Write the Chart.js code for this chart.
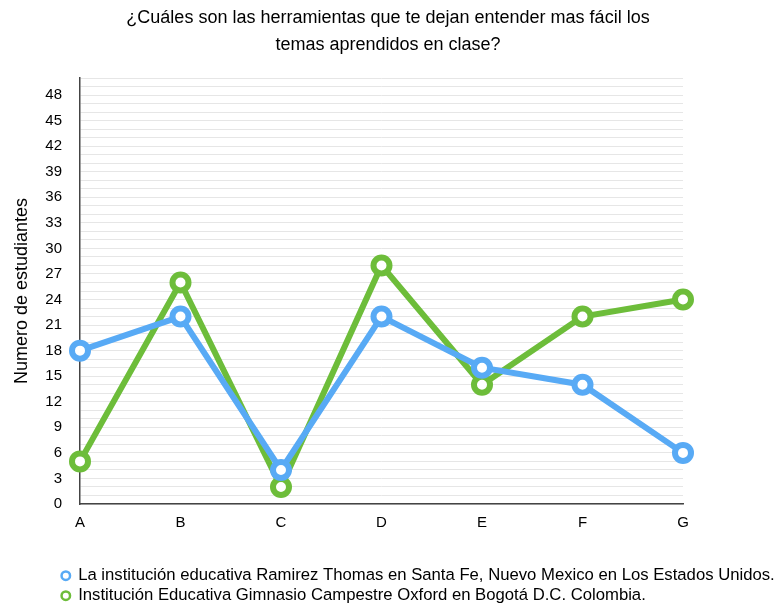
<!DOCTYPE html>
<html>
<head>
<meta charset="utf-8">
<script src="https://cdn.jsdelivr.net/npm/chart.js@4"></script>
<style>
  html, body { margin: 0; padding: 0; background: #fff; }
  #wrap { width: 776px; height: 603px; }
</style>
</head>
<body>
<div id="wrap"><canvas id="chart" width="776" height="603"></canvas></div>
<script>
// datos
const categorias = ['A', 'B', 'C', 'D', 'E', 'F', 'G'];
const santaFe = [18, 22, 4, 22, 16, 14, 6];
const bogota = [5, 26, 2, 28, 14, 22, 24];
const titulo = ['¿Cuáles son las herramientas que te dejan entender mas fácil los', 'temas aprendidos en clase?'];
const nombreSantaFe = 'La institución educativa Ramirez Thomas en Santa Fe, Nuevo Mexico en Los Estados Unidos.';
const nombreBogota = 'Institución Educativa Gimnasio Campestre Oxford en Bogotá D.C. Colombia.';
const yMax = 50;

const azul = 'rgb(88, 170, 245)';
const verde = 'rgb(109, 189, 58)';
const fuente = "'Liberation Sans', Arial, sans-serif";

// mueve la leyenda a la derecha, como en la imagen
const moverLeyenda = {
    id: 'moverLeyenda',
    afterLayout(chart) {
        chart.legend.left = 58.5;
    }
};

const ctx = document.getElementById('chart').getContext('2d');
const myChart = new Chart(ctx, {
    type: 'line',
    data: {
        labels: categorias,
        datasets: [
            {
                label: nombreSantaFe,
                data: santaFe,
                borderColor: azul,
                backgroundColor: '#fff',
                borderWidth: 6,
                pointRadius: 8,
                pointBorderWidth: 6,
                pointBackgroundColor: '#fff',
                pointBorderColor: azul,
                tension: 0,
            },
            {
                label: nombreBogota,
                data: bogota,
                borderColor: verde,
                backgroundColor: '#fff',
                borderWidth: 6,
                pointRadius: 8,
                pointBorderWidth: 6,
                pointBackgroundColor: '#fff',
                pointBorderColor: verde,
                tension: 0,
            },
        ]
    },
    options: {
        responsive: false,
        animation: false,
        layout: { padding: { left: 0, right: 0, top: 0, bottom: -11 } },
        plugins: {
            title: {
                display: true,
                text: titulo,
                color: '#000',
                font: { family: fuente, size: 18, weight: 'normal', lineHeight: 1.5 },
                padding: { top: 4.5, bottom: 19.5 },
            },
            legend: {
                position: 'bottom',
                align: 'start',
                labels: {
                    color: '#000',
                    font: { family: fuente, size: 16.7 },
                    usePointStyle: true,
                    pointStyle: 'circle',
                    boxWidth: 8,
                    boxHeight: 6,
                    padding: 3.3,
                    generateLabels: function (chart) {
                        return chart.data.datasets.map(function (ds, i) {
                            return {
                                text: ds.label,
                                fillStyle: '#fff',
                                strokeStyle: ds.borderColor,
                                lineWidth: 2.5,
                                pointStyle: 'circle',
                                datasetIndex: i,
                                fontColor: '#000',
                            };
                        });
                    }
                },
            },
            tooltip: { enabled: false },
        },
        scales: {
            x: {
                offset: false,
                grid: { display: false, drawTicks: false },
                border: { display: true, color: '#444', width: 1.5 },
                ticks: { color: '#000', font: { family: fuente, size: 15 }, padding: 10 },
                afterFit: function (scale) { scale.height = 60; },
            },
            y: {
                min: 0,
                max: yMax,
                grid: { color: '#e6e6e6', lineWidth: 1, drawTicks: false },
                border: { display: true, color: '#444', width: 1.5 },
                ticks: {
                    stepSize: 1,
                    autoSkip: false,
                    color: '#000',
                    font: { family: fuente, size: 15 },
                    padding: 18,
                    callback: function (value) {
                        return (value % 3 === 0 && value < yMax) ? value : '';
                    }
                },
                title: {
                    display: true,
                    text: 'Numero de estudiantes',
                    color: '#000',
                    font: { family: fuente, size: 18 },
                    padding: { top: 11, bottom: 4 },
                },
                afterFit: function (scale) { scale.width = 80; },
            },
            derecha: {
                position: 'right',
                display: true,
                grid: { display: false, drawTicks: false },
                border: { display: false },
                ticks: { display: false },
                afterFit: function (scale) { scale.width = 93; },
            },
        },
    },
    plugins: [moverLeyenda],
});
</script>
</body>
</html>
